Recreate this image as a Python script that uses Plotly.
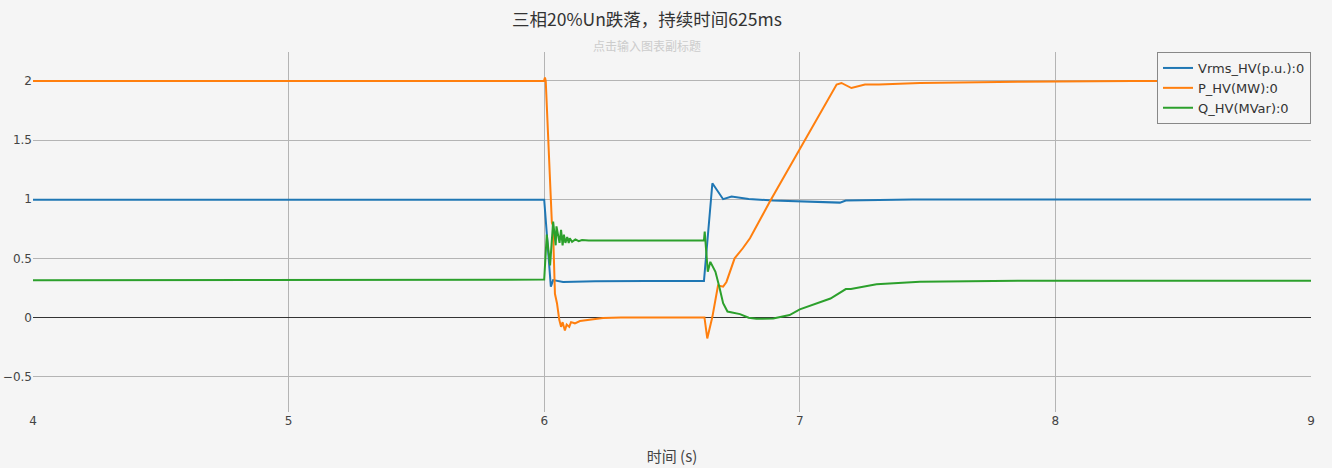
import plotly.graph_objects as go

# Vrms_HV (p.u.)
t_vrms = [4.0, 6.0, 6.026, 6.035, 6.074, 6.135, 6.2, 6.4, 6.625, 6.658, 6.70, 6.733, 6.80,
          6.895, 7.0, 7.09, 7.157, 7.18, 7.31, 7.44, 8.0, 9.0]
vrms = [0.995, 0.995, 0.26, 0.316, 0.30, 0.305, 0.305, 0.308, 0.308, 1.135, 1.0, 1.022, 1.002,
        0.988, 0.98, 0.971, 0.971, 0.988, 0.994, 0.998, 0.998, 0.998]

# P_HV (MW)
t_p = [4.0, 5.999, 6.003, 6.006, 6.03, 6.034, 6.042, 6.05, 6.059, 6.066, 6.072, 6.081, 6.088,
       6.098, 6.105, 6.12, 6.14, 6.18, 6.23, 6.3, 6.627, 6.638, 6.658, 6.68, 6.70, 6.713,
       6.745, 6.777, 6.805, 6.883, 6.955, 7.0, 7.144, 7.163, 7.202, 7.255, 7.31, 7.47, 7.64,
       7.86, 8.3, 9.0]
p = [2.0, 2.0, 2.03, 2.0, 0.80, 0.78, 0.2, 0.12, -0.02, -0.08, -0.04, -0.11, -0.06,
     -0.08, -0.04, -0.05, -0.03, -0.02, -0.005, 0.0, 0.0, -0.178, 0.005, 0.27, 0.26, 0.30,
     0.50, 0.585, 0.67, 0.98, 1.25, 1.42, 1.97, 1.983, 1.94, 1.97, 1.97, 1.983, 1.99,
     1.994, 2.0, 2.0]

# Q_HV (MVar)
t_q = [4.0, 6.0, 6.01, 6.023, 6.035, 6.045, 6.048, 6.06, 6.066, 6.072, 6.077, 6.083, 6.09,
       6.096, 6.10, 6.109, 6.122, 6.135, 6.148, 6.174, 6.3, 6.625, 6.628, 6.64, 6.65, 6.66,
       6.67, 6.685, 6.70, 6.717, 6.766, 6.80, 6.83, 6.896, 6.96, 7.0, 7.05, 7.12, 7.18, 7.20,
       7.30, 7.47, 7.86, 8.5, 9.0]
q = [0.315, 0.32, 0.70, 0.44, 0.81, 0.61, 0.77, 0.63, 0.74, 0.61, 0.70, 0.63, 0.68,
     0.63, 0.67, 0.64, 0.66, 0.645, 0.655, 0.65, 0.65, 0.65, 0.725, 0.386, 0.47, 0.43,
     0.386, 0.26, 0.12, 0.05, 0.028, -0.003, -0.012, -0.01, 0.02, 0.068, 0.104, 0.16, 0.24, 0.24,
     0.28, 0.302, 0.31, 0.31, 0.31]

series = [
    ("Vrms_HV(p.u.):0", t_vrms, vrms, "#1f77b4"),
    ("P_HV(MW):0", t_p, p, "#ff7f0e"),
    ("Q_HV(MVar):0", t_q, q, "#2ca02c"),
]

font_family = "Verdana, DejaVu Sans, Noto Sans CJK SC, sans-serif"
cjk = "Noto Sans CJK SC, sans-serif"

fig = go.Figure()
for name, t, v, colour in series:
    fig.add_trace(go.Scatter(x=t, y=v, mode="lines", name=name,
                             line=dict(color=colour, width=2)))

fig.update_layout(
    width=1332, height=468,
    margin=dict(l=33, r=21, t=52, b=56),
    paper_bgcolor="#f5f5f5", plot_bgcolor="#f5f5f5",
    font=dict(family=font_family, size=12, color="#444"),
    title=dict(text="三相20%Un跌落，持续时间625ms", x=0.4857, xanchor="center",
               y=1 - 20 / 468, yanchor="middle",
               font=dict(size=17.5, color="#333", family=cjk)),
    legend=dict(x=1, y=1, xanchor="right", yanchor="top", bgcolor="#f5f5f5",
                bordercolor="#888", borderwidth=1, font=dict(size=13, color="#333")),
    showlegend=True,
)
fig.add_annotation(text="点击输入图表副标题", xref="paper", yref="paper",
                   x=(647 - 33) / 1278, y=(412 - 45) / 360, xanchor="center", yanchor="middle",
                   showarrow=False, font=dict(size=12, color="#ccc", family=cjk))

fig.update_xaxes(range=[4, 9], dtick=1, showgrid=True, gridcolor="#b4b4b4", gridwidth=1,
                 zeroline=False, showline=False, automargin=False,
                 title=dict(text="时间 (s)", standoff=24,
                            font=dict(size=15, color="#444", family=cjk)))
fig.update_yaxes(range=[-0.8, 2.245], dtick=0.5, showgrid=True, gridcolor="#b4b4b4",
                 gridwidth=1, zeroline=True, zerolinecolor="#333", zerolinewidth=1,
                 showline=False, automargin=False)

# page body has a default margin; drop it so the chart sits at the window corner
fig.write_html("out.html", config={"displayModeBar": False},
               post_script="document.body.style.margin='0';")
